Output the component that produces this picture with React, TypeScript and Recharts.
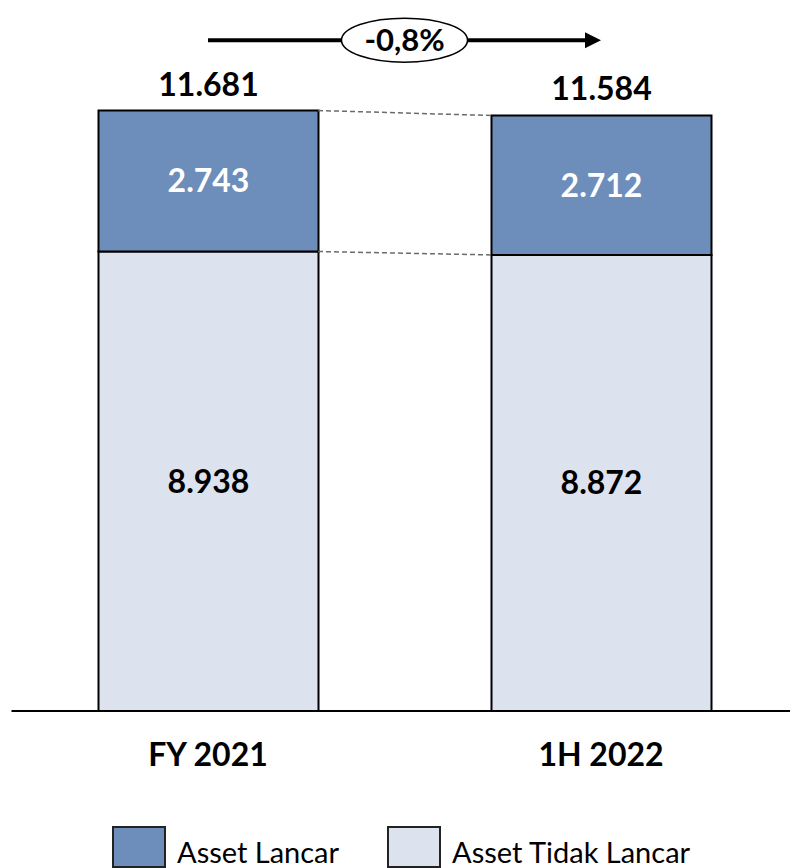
import React from 'react';
import { BarChart, Bar, XAxis, YAxis, LabelList, ReferenceLine, Legend } from 'recharts';

const categories = ['FY 2021', '1H 2022'];
const assetLancar = [2743, 2712];
const assetTidakLancar = [8938, 8872];
const totals = [11681, 11584];
const growthLabel = '-0,8%';
const seriesNames = { lancar: 'Asset Lancar', tidak: 'Asset Tidak Lancar' };

const DARK = '#6D8EBB';
const LIGHT = '#DCE3EE';
const FONT = 'Lato, "Open Sans", sans-serif';
const BAR_SIZE = 220;
const ARROW_LEVEL = 13050;

const data = categories.map((c, i) => ({
  category: c,
  lancar: assetLancar[i],
  tidak: assetTidakLancar[i],
  total: totals[i],
}));

const fmt = (v: any) => String(Math.round(Number(v))).replace(/\B(?=(\d{3})+(?!\d))/g, '.');

const TotalLabel = (p: any) => (
  <text
    x={Number(p.x) + Number(p.width) / 2}
    y={Number(p.y) - 15}
    textAnchor="middle"
    fontFamily={FONT}
    fontWeight={700}
    fontSize={32}
    fill="#000"
  >
    {fmt(p.value)}
  </text>
);

const CategoryTick = (p: any) => (
  <text
    x={p.x}
    y={p.y}
    dy={55}
    textAnchor="middle"
    fontFamily={FONT}
    fontWeight={700}
    fontSize={32}
    fill="#000"
  >
    {p.payload.value}
  </text>
);

const ArrowShape = (p: any) => {
  const { x1, y1, x2 } = p;
  const mid = (x1 + x2) / 2;
  return (
    <g>
      <line x1={x1} y1={y1} x2={x2 - 12} y2={y1} stroke="#000" strokeWidth={4} />
      <polygon points={`${x2},${y1} ${x2 - 16},${y1 - 8} ${x2 - 16},${y1 + 8}`} fill="#000" />
      <ellipse cx={mid} cy={y1} rx={63} ry={22} fill="#fff" stroke="#000" strokeWidth={1.5} />
      <text
        x={mid}
        y={y1 + 11}
        textAnchor="middle"
        fontFamily={FONT}
        fontWeight={700}
        fontSize={31}
        fill="#000"
      >
        {growthLabel}
      </text>
    </g>
  );
};

const DashShape = (p: any) => (
  <line
    x1={p.x1 + BAR_SIZE / 2}
    y1={p.y1}
    x2={p.x2 - BAR_SIZE / 2}
    y2={p.y2}
    stroke="#6b6b6b"
    strokeWidth={1.5}
    strokeDasharray="5 3"
  />
);

const LegendContent = (props: any) => {
  const items = [...(props.payload || [])].sort((a: any, b: any) =>
    a.value === seriesNames.lancar ? -1 : b.value === seriesNames.lancar ? 1 : 0
  );
  return (
    <div style={{ display: 'flex', alignItems: 'flex-end', fontFamily: FONT }}>
      {items.map((it: any, i: number) => (
        <div
          key={i}
          style={{ display: 'flex', alignItems: 'flex-end', marginRight: i === 0 ? 48 : 0 }}
        >
          <div
            style={{
              width: 50,
              height: 38,
              background: it.color,
              border: '2px solid #222',
              marginRight: 11,
            }}
          />
          <span
            style={{
              fontSize: 29,
              lineHeight: '30px',
              paddingBottom: 1,
              color: '#000',
              whiteSpace: 'nowrap',
            }}
          >
            {it.value}
          </span>
        </div>
      ))}
    </div>
  );
};

export default function App() {
  return (
    <div
      style={{
        position: 'absolute',
        left: 0,
        top: 0,
        width: 790,
        height: 868,
        overflow: 'hidden',
        background: '#fff',
      }}
    >
      <BarChart
        width={800}
        height={868}
        data={data}
        margin={{ top: 17, right: 2.5, bottom: 127, left: 11.5 }}
      >
        <XAxis
          dataKey="category"
          height={30}
          axisLine={{ stroke: '#000', strokeWidth: 2 }}
          tickLine={false}
          tickSize={0}
          tickMargin={0}
          tick={<CategoryTick />}
          interval={0}
        />
        <YAxis hide domain={[0, 13500]} />
        <Bar
          dataKey="tidak"
          name={seriesNames.tidak}
          stackId="a"
          fill={LIGHT}
          stroke="#000"
          strokeWidth={2}
          barSize={BAR_SIZE}
          isAnimationActive={false}
        >
          <LabelList
            dataKey="tidak"
            position="center"
            formatter={fmt}
            fill="#000"
            fontFamily={FONT}
            fontWeight={700}
            fontSize={32}
          />
        </Bar>
        <Bar
          dataKey="lancar"
          name={seriesNames.lancar}
          stackId="a"
          fill={DARK}
          stroke="#000"
          strokeWidth={2}
          barSize={BAR_SIZE}
          isAnimationActive={false}
        >
          <LabelList
            dataKey="lancar"
            position="center"
            formatter={fmt}
            fill="#fff"
            fontFamily={FONT}
            fontWeight={700}
            fontSize={32}
          />
          <LabelList dataKey="total" content={<TotalLabel />} />
        </Bar>
        <ReferenceLine
          segment={[
            { x: categories[0], y: totals[0] },
            { x: categories[1], y: totals[1] },
          ]}
          shape={DashShape}
          ifOverflow="visible"
        />
        <ReferenceLine
          segment={[
            { x: categories[0], y: assetTidakLancar[0] },
            { x: categories[1], y: assetTidakLancar[1] },
          ]}
          shape={DashShape}
          ifOverflow="visible"
        />
        <ReferenceLine
          segment={[
            { x: categories[0], y: ARROW_LEVEL },
            { x: categories[1], y: ARROW_LEVEL },
          ]}
          shape={ArrowShape}
          ifOverflow="visible"
        />
        <Legend
          layout="horizontal"
          verticalAlign="middle"
          align="center"
          content={<LegendContent />}
          wrapperStyle={{ left: 112, top: 826, width: 680 }}
        />
      </BarChart>
    </div>
  );
}
